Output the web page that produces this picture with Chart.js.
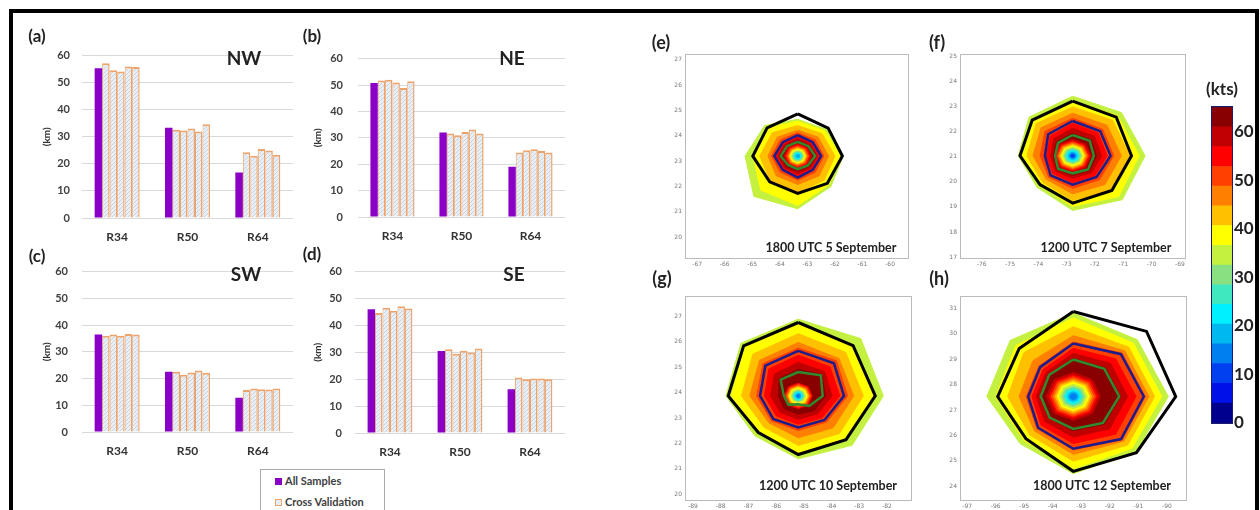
<!DOCTYPE html>
<html>
<head>
<meta charset="utf-8">
<script src="https://cdn.jsdelivr.net/npm/chart.js@4.4.1/dist/chart.umd.min.js"></script>
<style>
body { margin: 0; background: #fff; width: 1260px; height: 510px; overflow: hidden; position: relative; font-family: Lato, sans-serif; }
canvas { position: absolute; }
.t { position: absolute; font-weight: bold; color: #222; transform: translate(-50%, -50%); white-space: nowrap; }
#frame { position: absolute; left: 9px; top: 9px; width: 1242px; height: 530px; border: 4px solid #000; }
#legend { position: absolute; left: 260px; top: 469px; width: 123px; height: 50px; border: 1px solid #aaa; font-weight: bold; font-size: 11px; color: #404040; }
#legend div { position: absolute; left: 14px; white-space: nowrap; }
#legend span { display: inline-block; width: 7px; height: 7px; margin-right: 3px; vertical-align: 0px; }
</style>
</head>
<body>
<div id="frame"></div>

<canvas id="ca"></canvas><canvas id="cb"></canvas><canvas id="cc"></canvas><canvas id="cd"></canvas>
<canvas id="me"></canvas><canvas id="mf"></canvas><canvas id="mg"></canvas><canvas id="mh"></canvas>
<canvas id="cbar"></canvas>

<div class="t" style="left:37px;top:35px;font-size:17px">(a)</div>
<div class="t" style="left:312px;top:35px;font-size:17px">(b)</div>
<div class="t" style="left:37px;top:255px;font-size:17px">(c)</div>
<div class="t" style="left:312px;top:253px;font-size:17px">(d)</div>
<div class="t" style="left:244px;top:57px;font-size:19px">NW</div>
<div class="t" style="left:512px;top:57px;font-size:19px">NE</div>
<div class="t" style="left:246px;top:273px;font-size:19px">SW</div>
<div class="t" style="left:514px;top:273px;font-size:19px">SE</div>

<div class="t" style="left:661px;top:42px;font-size:18px">(e)</div>
<div class="t" style="left:937px;top:42px;font-size:18px">(f)</div>
<div class="t" style="left:662px;top:278px;font-size:18px">(g)</div>
<div class="t" style="left:939px;top:278px;font-size:18px">(h)</div>
<div class="t" style="left:831px;top:247px;font-size:12.5px">1800 UTC 5 September</div>
<div class="t" style="left:1106px;top:247px;font-size:12.5px">1200 UTC 7 September</div>
<div class="t" style="left:828px;top:485px;font-size:12.5px">1200 UTC 10 September</div>
<div class="t" style="left:1102px;top:485px;font-size:12.5px">1800 UTC 12 September</div>
<div class="t" style="left:1222px;top:88px;font-size:17px">(kts)</div>

<div id="legend">
  <div style="top:4px"><span style="background:#8a00c6"></span>All Samples</div>
  <div style="top:25px"><span style="background:#e6eef6;border:1px solid #eda46c;width:5px;height:5px"></span>Cross Validation</div>
</div>

<script>
// --- bar panels (a)-(d): All Samples + 5 cross validation folds, values for R34, R50, R64 ---
const cats = ["R34", "R50", "R64"];

const nwAll = [55.3, 33.3, 16.8];
const nwCv = [[57.2, 32.6, 24.3], [54.6, 32.3, 23.0], [54.1, 33.1, 25.5], [56.0, 32.0, 24.9], [55.8, 34.6, 23.4]];

const neAll = [50.8, 32.0, 19.0];
const neCv = [[51.7, 31.6, 24.4], [52.0, 31.0, 25.3], [50.9, 32.2, 25.7], [48.9, 33.1, 25.0], [51.4, 31.6, 24.4]];

const swAll = [36.5, 22.5, 12.8];
const swCv = [[36.0, 22.5, 15.7], [36.5, 21.4, 16.3], [36.0, 22.3, 16.0], [36.7, 23.0, 15.9], [36.5, 22.2, 16.3]];

const seAll = [46.0, 30.5, 16.3];
const seCv = [[44.6, 31.1, 20.6], [46.6, 29.5, 20.0], [45.4, 30.6, 20.3], [47.1, 29.9, 20.3], [46.3, 31.4, 20.0]];

// --- colour bar (kts) ---
const cbarEdges = [0, 4.06, 8.13, 12.19, 16.25, 20.31, 24.38, 28.44, 32.5, 36.56, 40.63, 44.69, 48.75, 52.81, 56.88, 60.94, 65];
const cbarColors = ["#00008f", "#0010e8", "#0040f0", "#0080f0", "#00b8f0", "#00f0ff", "#40e8c0", "#88e080",
                    "#c4f040", "#ffff00", "#ffc000", "#ff8000", "#ff4000", "#ff0000", "#c00000", "#880000"];

// --- wind field panels (e)-(h): radii in degrees toward N, NE, E, SE, S, SW, W, NW ---
const eCenter = [-63.35, 23.2];
const eRings = [[8, [1.45, 1.48, 1.65, 1.7, 2.08, 2.25, 1.91, 1.7]], [9, [1.38, 1.4, 1.55, 1.6, 1.95, 1.9, 1.62, 1.55]],
  [10, [1.2, 1.25, 1.35, 1.35, 1.45, 1.4, 1.38, 1.3]], [11, [1.02, 1.05, 1.12, 1.1, 1.12, 1.1, 1.08, 1.05]],
  [12, [0.92, 0.9, 0.95, 0.9, 0.95, 0.9, 0.95, 0.9]], [13, [0.8, 0.76, 0.82, 0.76, 0.82, 0.76, 0.82, 0.76]],
  [14, [0.7, 0.66, 0.72, 0.66, 0.7, 0.66, 0.72, 0.66]], [15, [0.62, 0.58, 0.64, 0.58, 0.6, 0.58, 0.64, 0.58]]];
const eEye = [[14, 0.5], [13, 0.45], [12, 0.4], [11, 0.35], [10, 0.31], [9, 0.27], [8, 0.23], [7, 0.19], [6, 0.15], [5, 0.11], [4, 0.07]];
const eR34 = [1.66, 1.56, 1.62, 1.52, 1.47, 1.44, 1.63, 1.57];
const eR50 = [0.82, 0.77, 0.85, 0.77, 0.85, 0.77, 0.85, 0.77];
const eR64 = [0.56, 0.55, 0.63, 0.52, 0.52, 0.5, 0.62, 0.55];

const fCenter = [-72.79, 21.04];
const fRings = [[8, [2.38, 2.44, 2.56, 2.48, 2.18, 1.78, 1.92, 2.18]], [9, [2.2, 2.25, 2.35, 2.3, 2.02, 1.65, 1.8, 2.05]],
  [10, [1.95, 2.0, 2.02, 1.95, 1.78, 1.5, 1.62, 1.82]], [11, [1.7, 1.72, 1.72, 1.62, 1.52, 1.32, 1.4, 1.58]],
  [12, [1.5, 1.5, 1.45, 1.35, 1.3, 1.2, 1.15, 1.38]], [13, [1.3, 1.28, 1.22, 1.12, 1.07, 1.0, 0.92, 1.12]],
  [14, [1.1, 1.1, 1.02, 0.95, 0.9, 0.86, 0.78, 0.95]], [15, [0.9, 0.92, 0.85, 0.84, 0.78, 0.78, 0.68, 0.8]]];
const fEye = [[14, 0.66], [13, 0.6], [12, 0.55], [11, 0.5], [10, 0.45], [9, 0.4], [8, 0.35], [7, 0.3], [6, 0.25], [5, 0.2], [4, 0.15], [3, 0.1], [2, 0.06]];
const fR34 = [2.18, 2.18, 2.08, 1.96, 1.89, 1.63, 1.86, 2.02];
const fR50 = [1.39, 1.38, 1.34, 1.2, 1.15, 1.1, 0.98, 1.22];
const fR64 = [0.83, 0.85, 0.75, 0.77, 0.7, 0.73, 0.62, 0.73];

const gCenter = [-85.2, 23.87];
const gRings = [[8, [3.02, 3.19, 3.07, 2.75, 2.48, 2.22, 2.61, 2.93]], [9, [2.82, 2.82, 2.72, 2.42, 2.28, 2.02, 2.42, 2.72]],
  [10, [2.45, 2.42, 2.35, 2.1, 1.95, 1.75, 2.05, 2.32]], [11, [2.1, 2.08, 2.0, 1.78, 1.65, 1.5, 1.75, 1.98]],
  [12, [1.88, 1.95, 1.78, 1.45, 1.36, 1.38, 1.5, 1.8]], [13, [1.6, 1.62, 1.5, 1.22, 1.12, 1.12, 1.22, 1.5]],
  [14, [1.32, 1.35, 1.22, 1.0, 0.92, 0.92, 1.0, 1.22]], [15, [1.05, 1.2, 0.98, 0.82, 0.72, 0.72, 0.72, 0.98]]];
const gEye = [[13, 0.5], [12, 0.45], [11, 0.4], [10, 0.36], [9, 0.32], [8, 0.27], [7, 0.22], [6, 0.18], [5, 0.14], [4, 0.1], [3, 0.06]];
const gR34 = [2.89, 2.8, 2.78, 2.44, 2.31, 2.04, 2.53, 2.79];
const gR50 = [1.77, 1.82, 1.65, 1.34, 1.24, 1.28, 1.38, 1.68];
const gR64 = [0.94, 1.15, 0.88, 0.56, 0.33, 0.5, 0.52, 0.9];

const hCenter = [-93.28, 27.53];
const hRings = [[8, [3.29, 3.17, 3.33, 3.1, 3.04, 2.63, 3.03, 3.13]], [9, [3.1, 2.98, 3.1, 2.9, 2.85, 2.45, 2.72, 2.85]],
  [10, [2.75, 2.75, 2.85, 2.7, 2.55, 2.15, 2.3, 2.45]], [11, [2.4, 2.55, 2.65, 2.5, 2.28, 1.92, 1.9, 2.0]],
  [12, [2.15, 2.42, 2.52, 2.42, 2.1, 1.8, 1.65, 1.7]], [13, [1.9, 2.1, 2.2, 2.1, 1.85, 1.6, 1.45, 1.5]],
  [14, [1.7, 1.85, 1.9, 1.8, 1.6, 1.4, 1.3, 1.35]], [15, [1.5, 1.6, 1.65, 1.55, 1.35, 1.2, 1.15, 1.22]]];
const hEye = [[14, 0.95], [13, 0.85], [12, 0.78], [11, 0.7], [10, 0.63], [9, 0.56], [8, 0.48], [7, 0.4], [6, 0.33], [5, 0.26], [4, 0.19], [3, 0.12]];
const hR34 = [3.35, 3.63, 3.59, 3.13, 2.95, 2.35, 2.65, 2.68];
const hR50 = [2.09, 2.36, 2.47, 2.37, 2.06, 1.74, 1.58, 1.64];
const hR64 = [1.46, 1.54, 1.61, 1.47, 1.28, 1.17, 1.14, 1.2];

const dirDeg = [90, 45, 0, -45, -90, -135, 180, 135];

Chart.defaults.font.family = "Lato, sans-serif";
Chart.defaults.animation = false;
Chart.defaults.events = [];
Chart.defaults.plugins.legend.display = false;
Chart.defaults.plugins.tooltip.enabled = false;

function place(id, left, top, w, h) {
  const c = document.getElementById(id);
  c.width = w; c.height = h;
  c.style.left = left + "px"; c.style.top = top + "px";
  return c;
}

function hatch() {
  const c = document.createElement("canvas");
  c.width = 4; c.height = 4;
  const g = c.getContext("2d");
  g.fillStyle = "#e8eff7"; g.fillRect(0, 0, 4, 4);
  g.strokeStyle = "#c8d4e0"; g.lineWidth = 1;
  g.beginPath(); g.moveTo(0, 4); g.lineTo(4, 0); g.stroke();
  return g.createPattern(c, "repeat");
}
const cvFill = hatch();

// area = [left, top, right, bottom] of the plot box on the page
function barPanel(id, all, cv, area, tickPad, titleOff) {
  const left = area[0] - 62, top = area[1] - 6;
  const cvs = place(id, left, top, area[2] - left + 6, area[3] - top + 30);
  const sets = [{ data: all, backgroundColor: "#8a00c6", borderWidth: 0 }];
  cv.forEach(f => sets.push({
    data: f, backgroundColor: cvFill, borderColor: "#eda46c",
    borderWidth: { left: 1, right: 1.5, top: 2, bottom: 0 }
  }));
  new Chart(cvs, {
    type: "bar",
    data: { labels: cats, datasets: sets },
    options: {
      responsive: false,
      layout: { padding: { top: 6, right: 6, left: 0, bottom: 0 } },
      datasets: { bar: { barPercentage: 1, categoryPercentage: 0.64 } },
      scales: {
        x: {
          grid: { display: false, drawTicks: false }, border: { display: false },
          ticks: { padding: 12, color: "#333", font: { size: 12, weight: "bold" } },
          afterFit: s => { s.height = 30; }
        },
        y: {
          min: 0, max: 60,
          ticks: { stepSize: 10, padding: tickPad, color: "#404040", font: { size: 11, weight: "bold" } },
          grid: { color: "#d9d9d9", drawTicks: false }, border: { display: false },
          title: { display: true, text: "(km)", color: "#333", font: { size: 10, weight: "bold" }, padding: { top: titleOff - 6, bottom: 0 } },
          afterFit: s => { s.width = 62; }
        }
      }
    }
  });
}

barPanel("ca", nwAll, nwCv, [82, 43, 293, 218], 12, 27);
barPanel("cb", neAll, neCv, [358, 43, 565, 217], 15, 22);
barPanel("cc", swAll, swCv, [82, 257, 293, 432], 14, 27);
barPanel("cd", seAll, seCv, [355, 258, 565, 433], 13, 25);

function polygon(center, r) {
  const pts = dirDeg.map((d, k) => {
    const rr = Array.isArray(r) ? r[k] : r;
    const a = d * Math.PI / 180;
    return { x: center[0] + rr * Math.cos(a), y: center[1] + rr * Math.sin(a) };
  });
  pts.push(pts[0]);
  return pts;
}

const frameAxis = pos => ({
  type: "linear", position: pos, display: true,
  ticks: { display: false }, grid: { display: false, drawTicks: false }, border: { color: "#bbb" },
  afterFit: s => { if (pos === "top") s.height = 0; else s.width = 0; }
});

function mapPanel(id, area, xr, yr, center, rings, eye, r34, r50, r64) {
  const left = area[0] - 20, top = area[1] - 5;
  const cvs = place(id, left, top, area[2] - left + 8, area[3] - top + 14);
  const sets = [];
  rings.concat(eye).forEach(([bin, r]) => sets.push({
    data: polygon(center, r), showLine: true, fill: "shape", tension: 0, pointRadius: 0,
    backgroundColor: cbarColors[bin], borderColor: cbarColors[bin], borderWidth: 1
  }));
  [[r34, "#000", 3], [r50, "#1c1c8c", 2.5], [r64, "#2e8b2e", 2.5]].forEach(([r, c, w]) => sets.push({
    data: polygon(center, r), showLine: true, fill: false, tension: 0, pointRadius: 0,
    borderColor: c, borderWidth: w
  }));
  sets.forEach((s, i) => { s.order = -i; });
  const tickFont = { size: 6, family: "DejaVu Sans" };
  new Chart(cvs, {
    type: "scatter",
    data: { datasets: sets },
    options: {
      responsive: false,
      layout: { padding: { top: 5, right: 8, left: 0, bottom: 0 } },
      scales: {
        x: {
          type: "linear", min: xr[0], max: xr[1],
          ticks: { stepSize: 1, includeBounds: false, padding: 3, color: "#777", font: tickFont },
          grid: { drawOnChartArea: false, drawTicks: false }, border: { color: "#bbb" },
          afterFit: s => { s.height = 14; }
        },
        y: {
          type: "linear", min: yr[0], max: yr[1],
          ticks: { stepSize: 1, includeBounds: false, padding: 3, color: "#777", font: tickFont },
          grid: { drawOnChartArea: false, drawTicks: false }, border: { color: "#bbb" },
          afterFit: s => { s.width = 20; }
        },
        x2: frameAxis("top"),
        y2: frameAxis("right")
      }
    }
  });
}

mapPanel("me", [685, 53, 908, 258], [-67.44, -59.35], [19.18, 27.2], eCenter, eRings, eEye, eR34, eR50, eR64);
mapPanel("mf", [960, 53, 1185, 258], [-76.77, -68.82], [16.96, 25.08], fCenter, fRings, fEye, fR34, fR50, fR64);
mapPanel("mg", [685, 295, 911, 500], [-89.29, -81.13], [19.77, 27.78], gCenter, gRings, gEye, gR34, gR50, gR64);
mapPanel("mh", [960, 295, 1186, 500], [-97.25, -89.33], [23.45, 31.47], hCenter, hRings, hEye, hR34, hR50, hR64);

// colour bar
const navy = "#1b1b70";
const cbAxis = pos => ({
  type: "linear", position: pos, display: true,
  ticks: { display: false }, grid: { display: false, drawTicks: false }, border: { color: navy, width: 2 },
  afterFit: s => { if (pos === "top") s.height = 0; else s.width = 0; }
});
new Chart(place("cbar", 1205, 95, 55, 340), {
  type: "bar",
  data: {
    labels: [""],
    datasets: cbarColors.map((c, i) => ({
      data: [[cbarEdges[i], cbarEdges[i + 1]]], backgroundColor: c,
      grouped: false, barPercentage: 1, categoryPercentage: 1, borderWidth: 0
    }))
  },
  options: {
    responsive: false,
    layout: { padding: { left: 7, top: 7, bottom: 5, right: 0 } },
    scales: {
      x: { ticks: { display: false }, grid: { display: false, drawTicks: false }, border: { color: navy, width: 2 }, afterFit: s => { s.height = 0; } },
      y: {
        position: "right", min: 0, max: 65,
        afterBuildTicks: s => { s.ticks = s.ticks.filter(t => t.value % 10 === 0); },
        ticks: { stepSize: 10, padding: 2, color: "#222", font: { size: 17, weight: "bold" } },
        grid: { display: false, drawTicks: false }, border: { color: navy, width: 2 },
        afterFit: s => { s.width = 28; }
      },
      x2: cbAxis("top"),
      y2: cbAxis("left")
    }
  }
});
</script>
</body>
</html>
